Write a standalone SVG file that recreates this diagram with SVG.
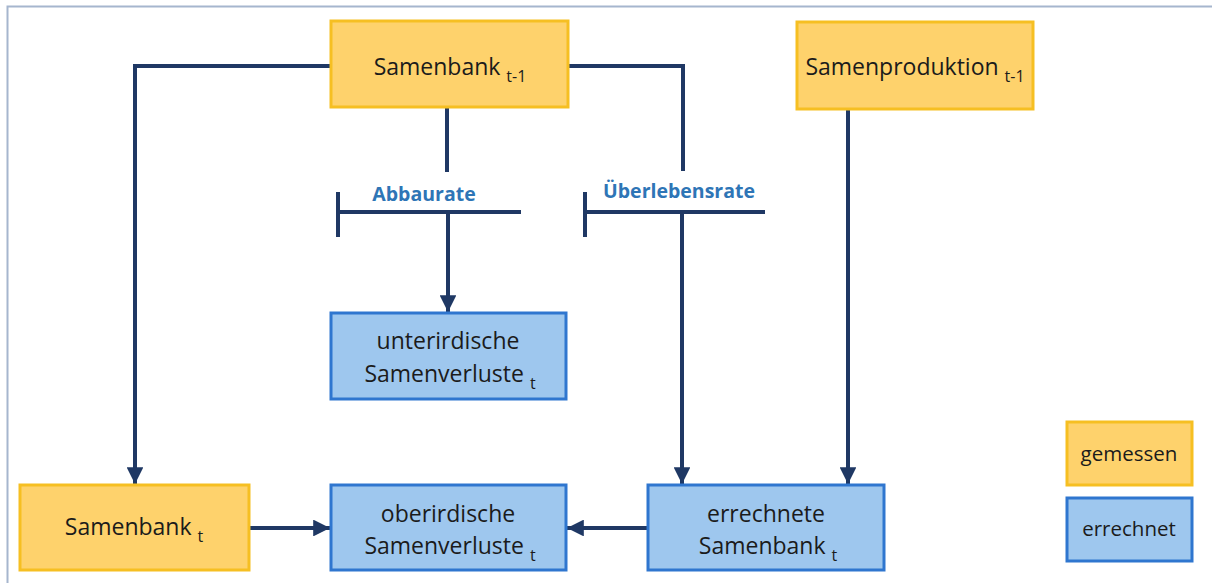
<svg xmlns="http://www.w3.org/2000/svg" width="1212" height="583" viewBox="0 0 1212 583">
<defs>
<marker id="arr" viewBox="0 0 10 10" refX="10" refY="5" markerWidth="4.2" markerHeight="4.2" orient="auto" markerUnits="strokeWidth">
<path d="M0,0 L10,5 L0,10 z" fill="#1f3864"/>
</marker>
<style>
.y{fill:#fed26c;stroke:#f6bf22;stroke-width:3}
.b{fill:#9ec7ee;stroke:#2f76cf;stroke-width:3}
.t{font-family:"Open Sans","Liberation Sans",sans-serif;font-size:23px;fill:#1b1b1b;text-anchor:middle}
.s{font-size:16px}
.lg{font-family:"Open Sans","Liberation Sans",sans-serif;font-size:20.5px;fill:#1b1b1b;text-anchor:middle}
.c{fill:none;stroke:#1f3864;stroke-width:4}
.lab{font-family:"Open Sans","Liberation Sans",sans-serif;font-size:19.5px;font-weight:bold;fill:#2e75b6;text-anchor:middle}
</style>
</defs>
<rect x="0" y="0" width="1212" height="583" fill="#ffffff"/>
<path d="M7.5,583 V6.5 H1212" fill="none" stroke="#a6b6ce" stroke-width="2"/>
<g id="connectors">
<path class="c" d="M331,66 H135 V484" marker-end="url(#arr)"/>
<path class="c" d="M568,66 H683 V171"/>
<path class="c" d="M447,107 V172"/>
<path class="c" d="M336,212 H521 M338,192 V237"/>
<path class="c" d="M448,212 V312" marker-end="url(#arr)"/>
<path class="c" d="M583,212 H765 M585,192 V237"/>
<path class="c" d="M682,212 V484" marker-end="url(#arr)"/>
<path class="c" d="M848,109 V484" marker-end="url(#arr)"/>
<path class="c" d="M249,528 H330" marker-end="url(#arr)"/>
<path class="c" d="M648,528 H567" marker-end="url(#arr)"/>
<text class="lab" x="424" y="201">Abbaurate</text>
<text class="lab" x="679" y="198">Überlebensrate</text>
</g>
<g id="samenbank_t1">
<rect class="y" x="331" y="21" width="237" height="86"/>
<text class="t" x="450" y="75">Samenbank <tspan class="s" dy="7">t-1</tspan></text>
</g>
<g id="samenproduktion_t1">
<rect class="y" x="797" y="22" width="236" height="87"/>
<text class="t" x="915" y="75">Samenproduktion <tspan class="s" dy="7">t-1</tspan></text>
</g>
<g id="unterirdische">
<rect class="b" x="331" y="313" width="235" height="86"/>
<text class="t" x="448" y="349">unterirdische</text>
<text class="t" x="450" y="382">Samenverluste <tspan class="s" dy="7">t</tspan></text>
</g>
<g id="samenbank_t">
<rect class="y" x="20" y="485" width="229" height="85"/>
<text class="t" x="134" y="535">Samenbank <tspan class="s" dy="7">t</tspan></text>
</g>
<g id="oberirdische">
<rect class="b" x="331" y="485" width="235" height="85"/>
<text class="t" x="448" y="522">oberirdische</text>
<text class="t" x="450" y="554">Samenverluste <tspan class="s" dy="7">t</tspan></text>
</g>
<g id="errechnete_samenbank">
<rect class="b" x="648" y="485" width="236" height="85"/>
<text class="t" x="766" y="522">errechnete</text>
<text class="t" x="768" y="554">Samenbank <tspan class="s" dy="7">t</tspan></text>
</g>
<g id="legend_gemessen">
<rect class="y" x="1067" y="422" width="125" height="63"/>
<text class="lg" x="1129" y="461">gemessen</text>
</g>
<g id="legend_errechnet">
<rect class="b" x="1067" y="498" width="125" height="63"/>
<text class="lg" x="1129" y="536">errechnet</text>
</g>
</svg>
